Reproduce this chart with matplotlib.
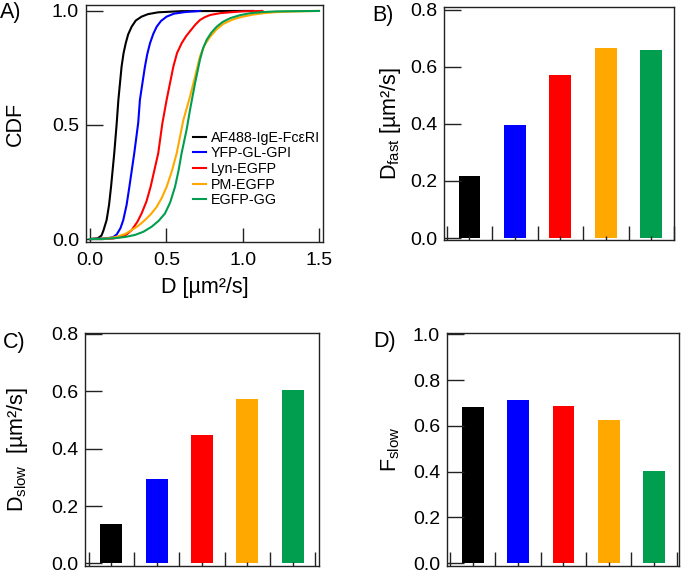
import matplotlib
matplotlib.use("Agg")
from matplotlib import pyplot as plt
from matplotlib.ticker import MultipleLocator, FixedLocator, NullFormatter, FormatStrFormatter

plt.rcParams["font.family"] = ["Liberation Sans", "DejaVu Sans"]

names = ["AF488-IgE-Fc\u03b5RI", "YFP-GL-GPI", "Lyn-EGFP", "PM-EGFP", "EGFP-GG"]
colors = ["#000000", "#0000FF", "#FF0000", "#FFA800", "#009E4E"]

# CDF curves: (D, CDF)
cdf_black_d = [0.0, 0.05, 0.075, 0.087, 0.109, 0.125, 0.138, 0.159, 0.175, 0.186, 0.207, 0.22, 0.234, 0.25, 0.273, 0.30, 0.338, 0.38, 0.447, 0.6, 1.07]
cdf_black_p = [0.0, 0.003, 0.015, 0.035, 0.083, 0.15, 0.229, 0.376, 0.507, 0.61, 0.756, 0.815, 0.858, 0.897, 0.931, 0.958, 0.975, 0.986, 0.994, 0.999, 1.0]
cdf_blue_d = [0.0, 0.10, 0.15, 0.175, 0.20, 0.218, 0.24, 0.258, 0.290, 0.316, 0.327, 0.345, 0.360, 0.375, 0.393, 0.415, 0.437, 0.465, 0.502, 0.55, 0.622, 0.72]
cdf_blue_p = [0.0, 0.002, 0.008, 0.02, 0.048, 0.083, 0.15, 0.229, 0.376, 0.51, 0.61, 0.69, 0.756, 0.81, 0.858, 0.90, 0.931, 0.956, 0.975, 0.988, 0.995, 1.0]
cdf_red_d = [0.0, 0.15, 0.207, 0.24, 0.273, 0.31, 0.338, 0.37, 0.397, 0.447, 0.474, 0.502, 0.546, 0.57, 0.600, 0.63, 0.66, 0.69, 0.720, 0.75, 0.786, 0.85, 0.917, 1.0, 1.13]
cdf_red_p = [0.0, 0.002, 0.01, 0.02, 0.039, 0.075, 0.112, 0.165, 0.229, 0.376, 0.507, 0.61, 0.756, 0.815, 0.858, 0.89, 0.915, 0.94, 0.96, 0.972, 0.982, 0.99, 0.994, 0.998, 1.0]
cdf_orange_d = [0.0, 0.10, 0.175, 0.23, 0.273, 0.32, 0.360, 0.40, 0.437, 0.47, 0.502, 0.535, 0.568, 0.611, 0.655, 0.688, 0.720, 0.75, 0.786, 0.83, 0.873, 0.93, 0.982, 1.06, 1.135, 1.22, 1.31, 1.5]
cdf_orange_p = [0.0, 0.001, 0.01, 0.022, 0.039, 0.06, 0.083, 0.11, 0.141, 0.18, 0.229, 0.295, 0.376, 0.52, 0.624, 0.712, 0.800, 0.85, 0.886, 0.92, 0.943, 0.961, 0.972, 0.983, 0.99, 0.995, 0.997, 1.0]
cdf_green_d = [0.0, 0.10, 0.164, 0.23, 0.295, 0.35, 0.404, 0.45, 0.491, 0.525, 0.557, 0.580, 0.600, 0.633, 0.655, 0.688, 0.720, 0.74, 0.764, 0.795, 0.830, 0.87, 0.917, 0.98, 1.048, 1.13, 1.22, 1.5]
cdf_green_p = [0.0, 0.001, 0.004, 0.009, 0.018, 0.032, 0.054, 0.08, 0.112, 0.16, 0.229, 0.30, 0.376, 0.48, 0.566, 0.683, 0.785, 0.835, 0.873, 0.905, 0.931, 0.952, 0.968, 0.981, 0.99, 0.995, 0.998, 1.0]

d_fast = [0.217, 0.397, 0.570, 0.667, 0.659]
d_slow = [0.136, 0.294, 0.446, 0.574, 0.605]
f_slow = [0.683, 0.713, 0.686, 0.626, 0.403]

W, H = 682, 573
TICK_FS = 14
LABEL_FS = 15.5


def px_axes(fig, left, right, top, bottom):
    return fig.add_axes([left / W, (H - bottom) / H, (right - left) / W, (bottom - top) / H])


def style(ax):
    for s in ax.spines.values():
        s.set_linewidth(1.0)
        s.set_color("#222222")
    ax.tick_params(direction="in", labelsize=TICK_FS, width=1.0, pad=5, colors="#222222", labelcolor="black")
    ax.tick_params(axis="y", length=12)


def bar_panel(ax, values, ylim, ystep, xlim, ylabel, labelpad):
    x = range(len(values))
    ax.bar(x, values, width=0.48, color=colors)
    ax.set_xlim(*xlim)
    ax.set_ylim(*ylim)
    ax.yaxis.set_major_locator(MultipleLocator(ystep))
    ax.yaxis.set_major_formatter(FormatStrFormatter("%.1f"))
    ax.xaxis.set_major_locator(FixedLocator([-0.5, 0.5, 1.5, 2.5, 3.5, 4.5]))
    ax.xaxis.set_minor_locator(FixedLocator(list(x)))
    ax.xaxis.set_major_formatter(NullFormatter())
    style(ax)
    ax.tick_params(axis="x", which="major", length=10)
    ax.tick_params(axis="x", which="minor", direction="in", length=3, width=1.0, colors="#222222")
    ax.set_ylabel(ylabel, fontsize=LABEL_FS, labelpad=labelpad)


def main():
    fig = plt.figure(figsize=(W / 100, H / 100), dpi=100)

    # A) CDF
    ax = px_axes(fig, 86, 323, 5, 242)
    curves = [
        (cdf_black_d, cdf_black_p),
        (cdf_blue_d, cdf_blue_p),
        (cdf_red_d, cdf_red_p),
        (cdf_orange_d, cdf_orange_p),
        (cdf_green_d, cdf_green_p),
    ]
    for (d, p), c, n in zip(curves, colors, names):
        ax.plot(d, p, color=c, lw=1.5, label=n)
    ax.set_xlim(-0.026, 1.526)
    ax.set_ylim(-0.013, 1.026)
    ax.xaxis.set_major_locator(MultipleLocator(0.5))
    ax.yaxis.set_major_locator(MultipleLocator(0.5))
    ax.xaxis.set_major_formatter(FormatStrFormatter("%.1f"))
    ax.yaxis.set_major_formatter(FormatStrFormatter("%.1f"))
    style(ax)
    ax.tick_params(axis="x", length=10, pad=7)
    ax.set_ylabel("CDF", fontsize=LABEL_FS, labelpad=19)
    ax.set_xlabel("D [µm²/s]", fontsize=LABEL_FS, labelpad=6)
    ax.legend(loc="upper left", bbox_to_anchor=(0.45, 0.47), frameon=False, fontsize=10.3,
              handlelength=0.95, handletextpad=0.3, labelspacing=0.12, borderpad=0, borderaxespad=0)

    # B) D fast
    ax = px_axes(fig, 444, 674, 7, 240)
    bar_panel(ax, d_fast, (-0.007, 0.81), 0.2, (-0.56, 4.5), r"D$\mathregular{_{fast}}$ [µm²/s]", 5)

    # C) D slow
    ax = px_axes(fig, 85, 319, 333, 566)
    bar_panel(ax, d_slow, (-0.009, 0.803), 0.2, (-0.58, 4.58), r"D$\mathregular{_{slow}}$  [µm²/s]", 15)

    # D) F slow
    ax = px_axes(fig, 447, 679, 333, 566)
    bar_panel(ax, f_slow, (-0.012, 1.006), 0.2, (-0.57, 4.55), r"F$\mathregular{_{slow}}$", 8)

    for label, x, y in [("A)", 0, 2), ("B)", 372, 5), ("C)", 3, 332), ("D)", 373, 331)]:
        fig.text(x / W, 1 - y / H, label, fontsize=LABEL_FS, ha="left", va="top")

    fig.savefig("out.png", dpi=100)


if __name__ == "__main__":
    main()
